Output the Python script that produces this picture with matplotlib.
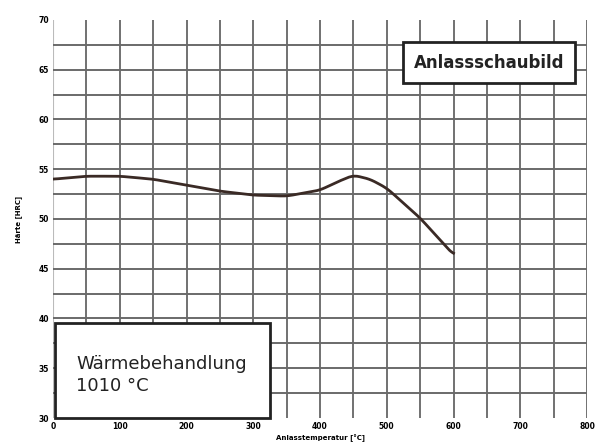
import matplotlib.pyplot as plt
import numpy as np

# Anlasskurve
temperatur = [0, 50, 100, 150, 200, 250, 300, 350, 400, 425, 450, 475, 500, 550, 600]
haerte = [54.0, 54.3, 54.3, 54.0, 53.4, 52.8, 52.4, 52.3, 52.9, 53.7, 54.4, 54.0, 53.1, 50.1, 46.4]

x_ticks = [0, 100, 200, 300, 400, 500, 600, 700, 800]
y_ticks = [30, 35, 40, 45, 50, 55, 60, 65, 70]

fig = plt.figure(figsize=(6.06, 4.48), dpi=100)
ax = fig.add_axes([53 / 606, 30 / 448, 534 / 606, 398 / 448])
ax.set_xlim(0, 800)
ax.set_ylim(30, 70)

# Gitter
for v in np.arange(50, 801, 50):
    ax.axvline(v, color='#666666', lw=1.3, zorder=1)
ax.axvline(0, color='#bbbbbb', lw=0.8, zorder=1)
for h in np.arange(32.5, 70, 2.5):
    ax.axhline(h, color='#6a6a6a', lw=1.4, zorder=1)

# Kurve leicht glätten
xs = np.linspace(0, 600, 300)
ys = np.interp(xs, temperatur, haerte)
k = np.ones(9) / 9
ys_s = np.convolve(np.pad(ys, 4, mode='edge'), k, mode='valid')
ax.plot(xs, ys_s, color='#3a2a25', lw=2, zorder=3)

for s in ax.spines.values():
    s.set_visible(False)
ax.set_xticks(x_ticks)
ax.set_yticks(y_ticks)
ax.tick_params(length=0, labelsize=5.5, pad=3)
for lbl in ax.get_xticklabels() + ax.get_yticklabels():
    lbl.set_fontweight('bold')
ax.set_xlabel('Anlasstemperatur [°C]', fontsize=5, fontweight='bold', labelpad=2)
ax.set_ylabel('Härte [HRC]', fontsize=5, fontweight='bold', labelpad=12)

# Textboxen
fig.patches.append(plt.Rectangle((403 / 606, 1 - 83 / 448), 172 / 606, 41 / 448,
                                 transform=fig.transFigure, facecolor='white',
                                 edgecolor='#222222', lw=2, zorder=5))
fig.text(489 / 606, 1 - 63 / 448, 'Anlassschaubild', ha='center', va='center',
         fontsize=12, fontweight='bold', color='#222222', zorder=6)

fig.patches.append(plt.Rectangle((55 / 606, 30 / 448), 215 / 606, 95 / 448,
                                 transform=fig.transFigure, facecolor='white',
                                 edgecolor='#222222', lw=2, zorder=5))
fig.text(76 / 606, 1 - 375 / 448, 'Wärmebehandlung\n1010 °C', ha='left', va='center',
         fontsize=13, color='#222222', linespacing=1.25, zorder=6)

plt.savefig('out.png', dpi=100)
